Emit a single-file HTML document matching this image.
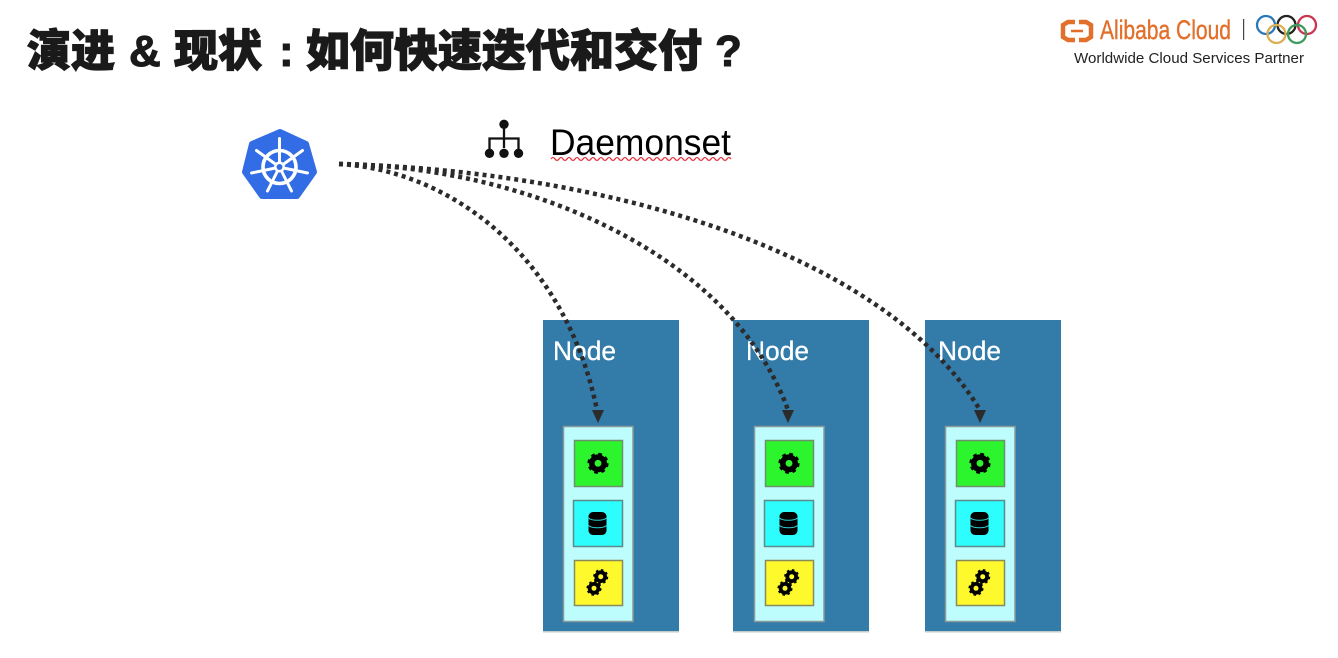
<!DOCTYPE html>
<html><head><meta charset="utf-8"><style>
html,body{margin:0;padding:0;background:#fff;width:1338px;height:658px;overflow:hidden}
svg{display:block}
.t{font-family:"Liberation Sans","Noto Sans CJK SC",sans-serif;font-weight:900;font-size:44px;fill:#1a1a1a;stroke:#1a1a1a;stroke-width:1.2}
.p{font-family:"Liberation Sans",sans-serif;font-weight:700;fill:#1a1a1a;stroke:#1a1a1a;stroke-width:1;font-size:44px}
.n{font-family:"Liberation Sans",sans-serif;font-size:27px;fill:#fff;stroke:#fff;stroke-width:.3}
.c{fill:none;stroke:#2b2b2b;stroke-width:4.5;stroke-dasharray:4 4}
</style></head><body>
<svg width="1338" height="658" viewBox="0 0 1338 658" xmlns="http://www.w3.org/2000/svg">
<defs>
<g id="inner">
<rect x="20.500" y="106.500" width="69.500" height="195" fill="#bdfdfd" stroke="#8a9a9a" stroke-width="1.500"/>
<rect x="31.500" y="120.500" width="48" height="46" fill="#2df52d" stroke="#6f8f6f" stroke-width="1.500"/>
<rect x="30.500" y="180.500" width="49" height="46" fill="#2dfdfd" stroke="#5f8a8a" stroke-width="1.500"/>
<rect x="31.500" y="240.500" width="48" height="45" fill="#fdf92d" stroke="#8a8a5a" stroke-width="1.500"/>
<circle cx="55" cy="143.300" r="6.200" fill="none" stroke="#000" stroke-width="5.500"/>
<circle cx="55" cy="143.300" r="9.600" fill="none" stroke="#000" stroke-width="2" stroke-dasharray="3.800 3.740"/>
<rect x="45.500" y="192" width="18" height="23" rx="4.500" fill="#000"/>
<path d="M45.500 198c3 3 15 3 18 0M45.500 205.500c3 3 15 3 18 0" fill="none" stroke="#2dcfcf" stroke-width="1"/>
<circle cx="57.700" cy="256.700" r="4.400" fill="none" stroke="#000" stroke-width="3.800"/>
<circle cx="57.700" cy="256.700" r="6.800" fill="none" stroke="#000" stroke-width="1.500" stroke-dasharray="2.600 2.740"/>
<circle cx="51" cy="268.300" r="4.400" fill="none" stroke="#000" stroke-width="3.800"/>
<circle cx="51" cy="268.300" r="6.800" fill="none" stroke="#000" stroke-width="1.500" stroke-dasharray="2.600 2.740"/>
</g>
</defs>

<!-- title -->
<text class="t" x="27" y="66">演进</text>
<text class="p" x="129" y="66" font-size="44">&amp;</text>
<text class="t" x="174" y="66">现状</text>
<text class="p" x="279" y="66">:</text>
<text class="t" x="306" y="66">如何快速迭代和交付</text>
<text class="p" x="715" y="66">?</text>

<!-- logo -->
<g fill="none" stroke="#e2702c" stroke-width="4.500">
<path d="M1075 22h-7l-5 3v12l5 3h7"/>
<path d="M1079 22h7l5 3v12l-5 3h-7"/>
<path d="M1071 31h12" stroke-width="2.500"/>
</g>
<text x="1100" y="39" font-family="Liberation Sans,sans-serif" font-size="27" fill="#e2702c" stroke="#e2702c" stroke-width=".4" textLength="131" lengthAdjust="spacingAndGlyphs">Alibaba Cloud</text>
<rect x="1243" y="19" width="1.200" height="21" fill="#444"/>
<g fill="none" stroke-width="2.300">
<circle cx="1266" cy="25" r="9" stroke="#2a78b8"/>
<circle cx="1286.500" cy="25" r="9" stroke="#222"/>
<circle cx="1307" cy="25" r="9" stroke="#c8384e"/>
<circle cx="1276.500" cy="34" r="9" stroke="#dcae52"/>
<circle cx="1297" cy="34" r="9" stroke="#3c9a5a"/>
</g>
<text x="1074" y="63" font-family="Liberation Sans,sans-serif" font-size="14.500" fill="#222" textLength="230" lengthAdjust="spacingAndGlyphs">Worldwide Cloud Services Partner</text>

<!-- k8s -->
<path d="M280 132l26 12 8 28-17 24h-35l-17-24 7-28z" fill="#326de6" stroke="#326de6" stroke-width="6" stroke-linejoin="round"/>
<g transform="translate(279.500 167)" stroke="#fff" fill="none">
<circle r="16.500" stroke-width="3.600"/>
<g stroke-width="3" stroke-linecap="round">
<path d="M0-28.500V-4"/>
<path d="M-23-16.500L-3.500-2.500"/>
<path d="M23-16.500L3.500-2.500"/>
<path d="M-28 6L-4 1"/>
<path d="M28 6L4 1"/>
<path d="M-12 24L-2 4"/>
<path d="M12 24L2 4"/>
</g>
<circle r="4.200" fill="#326de6" stroke-width="2.500"/>
</g>

<!-- daemonset -->
<g fill="#111">
<circle cx="504" cy="124.300" r="4.700"/>
<circle cx="489.500" cy="153.300" r="4.700"/>
<circle cx="504" cy="153.300" r="4.700"/>
<circle cx="518.500" cy="153.300" r="4.700"/>
</g>
<path d="M504 128v20M489.500 149v-10.500h29v10.500" fill="none" stroke="#111" stroke-width="2.300"/>
<text x="550" y="155" font-family="Liberation Sans,sans-serif" font-size="37" fill="#000" textLength="181" lengthAdjust="spacingAndGlyphs">Daemonset</text>
<path d="M551 159q2-3 4 0t4 0t4 0t4 0t4 0t4 0t4 0t4 0t4 0t4 0t4 0t4 0t4 0t4 0t4 0t4 0t4 0t4 0t4 0t4 0t4 0t4 0t4 0t4 0t4 0t4 0t4 0t4 0t4 0t4 0t4 0t4 0t4 0t4 0t4 0t4 0t4 0t4 0t4 0t4 0t4 0t4 0t4 0t4 0t4 0" fill="none" stroke="#e0353d" stroke-width="1.300"/>

<!-- nodes -->
<g fill="#337ba9">
<rect x="543" y="320" width="136" height="311"/>
<rect x="733" y="320" width="136" height="311"/>
<rect x="925" y="320" width="136" height="311"/>
</g>
<g fill="#9aa" opacity=".6">
<rect x="543" y="631" width="136" height="1.500"/>
<rect x="733" y="631" width="136" height="1.500"/>
<rect x="925" y="631" width="136" height="1.500"/>
</g>
<use href="#inner" x="543" y="320"/>
<use href="#inner" x="734" y="320"/>
<use href="#inner" x="925" y="320"/>
<text class="n" x="553" y="360" textLength="63" lengthAdjust="spacingAndGlyphs">Node</text>
<text class="n" x="746" y="360" textLength="63" lengthAdjust="spacingAndGlyphs">Node</text>
<text class="n" x="938" y="360" textLength="63" lengthAdjust="spacingAndGlyphs">Node</text>

<!-- connectors -->
<path class="c" d="M339 164C450 170 565 255 597 410"/>
<path class="c" d="M339 164C520 166 730 250 788 410"/>
<path class="c" d="M339 164C590 170 880 245 980 410"/>
<g fill="#2b2b2b">
<path d="M592 410h12l-6 13z"/>
<path d="M782 410h12l-6 13z"/>
<path d="M974 410h12l-6 13z"/>
</g>
</svg>
</body></html>
